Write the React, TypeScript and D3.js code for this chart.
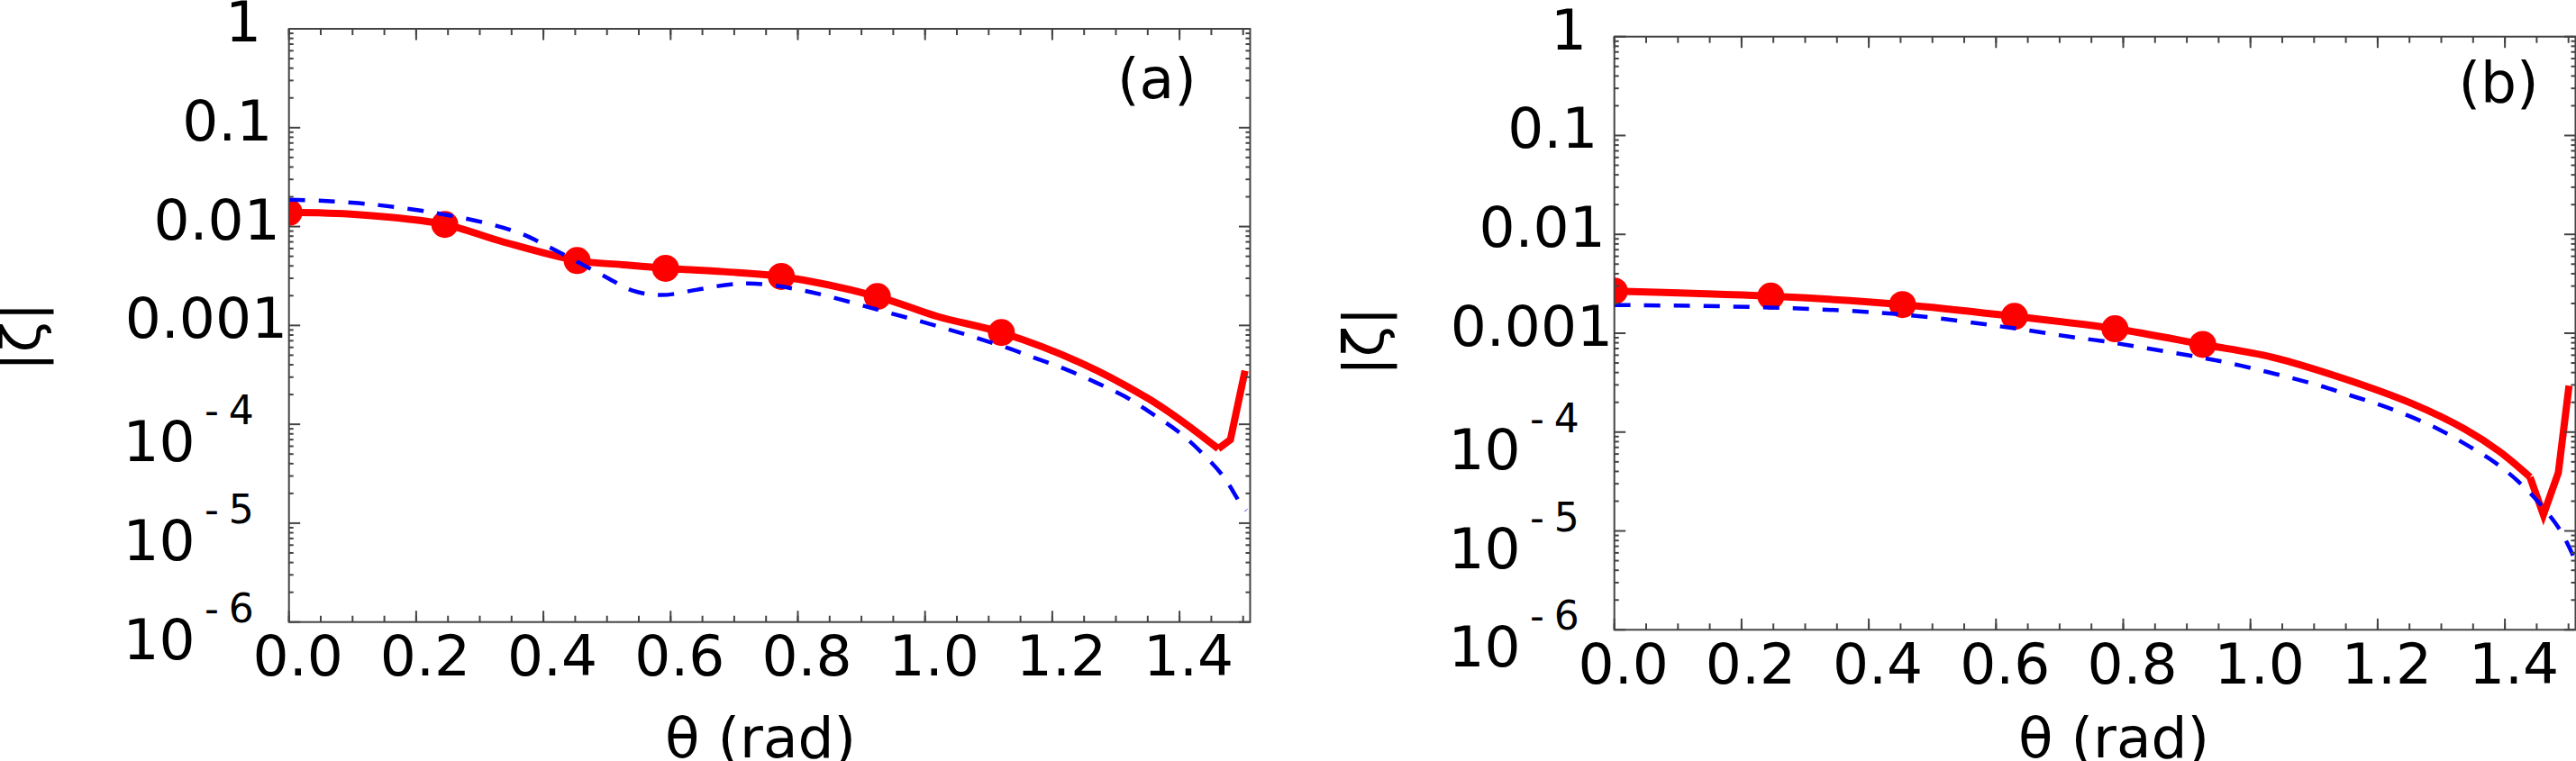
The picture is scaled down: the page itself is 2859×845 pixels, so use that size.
import React from 'react';
import * as d3 from 'd3';

// ---------- data ----------
const xTickLabels = ['0.0', '0.2', '0.4', '0.6', '0.8', '1.0', '1.2', '1.4'];
const xTickValues = [0, 0.2, 0.4, 0.6, 0.8, 1.0, 1.2, 1.4];
const yTickValues = [1, 0.1, 0.01, 0.001, 1e-4, 1e-5, 1e-6];
const yTickLabels = ['1', '0.1', '0.01', '0.001', '10^-4', '10^-5', '10^-6'];
const xLabel = 'θ (rad)';
const yLabel = '|ζ|';
const panelLabels = ['(a)', '(b)'];

// panel (a)
const thetaRedA = [0, 0.107, 0.245, 0.335, 0.453, 0.5245, 0.592, 0.683, 0.774, 0.925, 1.02, 1.12, 1.246, 1.346, 1.40, 1.461, 1.480, 1.503];
const zetaRedA = [1.39e-2, 1.32e-2, 1.05e-2, 7.05e-3, 4.53e-3, 4.11e-3, 3.78e-3, 3.50e-3, 3.13e-3, 1.96e-3, 1.23e-3, 8.47e-4, 4.15e-4, 1.9e-4, 1.12e-4, 5.66e-5, 6.98e-5, 3.48e-4];
const thetaMarkA = [0, 0.245, 0.453, 0.592, 0.774, 0.925, 1.12];
const zetaMarkA = [1.39e-2, 1.05e-2, 4.53e-3, 3.78e-3, 3.13e-3, 1.96e-3, 8.47e-4];
const thetaBlueA = [0, 0.048, 0.137, 0.231, 0.316, 0.367, 0.406, 0.496, 0.540, 0.586, 0.642, 0.692, 0.733, 0.789, 0.839, 0.936, 0.984, 1.033, 1.080, 1.128, 1.176, 1.223, 1.269, 1.315, 1.357, 1.398, 1.437, 1.470, 1.496, 1.505];
const zetaBlueA = [1.87e-2, 1.83e-2, 1.66e-2, 1.37e-2, 1.06e-2, 8.38e-3, 6.34e-3, 3.15e-3, 2.25e-3, 2.03e-3, 2.30e-3, 2.59e-3, 2.65e-3, 2.38e-3, 2.04e-3, 1.38e-3, 1.14e-3, 9.27e-4, 7.52e-4, 5.97e-4, 4.61e-4, 3.56e-4, 2.64e-4, 1.90e-4, 1.28e-4, 8.43e-5, 5.01e-5, 2.91e-5, 1.58e-5, 1.35e-5];

// panel (b)
const thetaRedB = [0, 0.246, 0.453, 0.629, 0.787, 0.925, 1.034, 1.144, 1.254, 1.337, 1.392, 1.4395, 1.4605, 1.484, 1.5008];
const zetaRedB = [2.67e-3, 2.37e-3, 1.95e-3, 1.48e-3, 1.11e-3, 7.7e-4, 5.73e-4, 3.52e-4, 1.94e-4, 1.07e-4, 6.32e-5, 3.50e-5, 1.46e-5, 3.88e-5, 2.95e-4];
const thetaMarkB = [0, 0.246, 0.453, 0.629, 0.787, 0.925];
const zetaMarkB = [2.67e-3, 2.37e-3, 1.95e-3, 1.48e-3, 1.11e-3, 7.7e-4];
const thetaBlueB = [0, 0.244, 0.45, 0.629, 0.715, 0.765, 0.814, 0.913, 0.963, 1.012, 1.062, 1.111, 1.158, 1.205, 1.251, 1.298, 1.342, 1.385, 1.424, 1.459, 1.488, 1.508];
const zetaBlueB = [1.93e-3, 1.82e-3, 1.55e-3, 1.12e-3, 9.23e-4, 8.36e-4, 7.46e-4, 5.81e-4, 5.05e-4, 4.27e-4, 3.56e-4, 2.92e-4, 2.34e-4, 1.87e-4, 1.44e-4, 1.05e-4, 7.28e-5, 4.89e-5, 3.04e-5, 1.76e-5, 9.93e-6, 5.48e-6];

const xDomain = [0, 1.511];
const yDomain = [1e-6, 1];

// ---------- styling / layout ----------
const W = 2859;
const H = 845;
const FONT = "'DejaVu Sans', 'Noto Sans', sans-serif";
const FS = 63;
const SUP_FS = 44;
const AXIS = '#444';

const layouts = [
  { x0: 320.7, y0: 32, y1: 690.7, titleX: 844, yTitleX: 44.4, yTitleY: 374, labX: 1240, labY: 108.5, linearFrom: 1.461 },
  { x0: 1791.7, y0: 40.7, y1: 699.3, titleX: 2346, yTitleX: 1535, yTitleY: 379, labX: 2728.5, labY: 113, linearFrom: 1.4395 },
];
const PX_PER_UNIT = 706;

function advance(s: string) {
  let w = 0;
  for (const c of s) w += c === '.' ? 0.318 : 0.636;
  return w * FS;
}

type Series = { t: number[]; v: number[] };

function Panel({ idx, red, marks, blue }: { idx: number; red: Series; marks: Series; blue: Series }) {
  const L = layouts[idx];
  const x1 = L.x0 + (xDomain[1] - xDomain[0]) * PX_PER_UNIT;
  const x = d3.scaleLinear().domain(xDomain).range([L.x0, x1]);
  const y = d3.scaleLog().domain(yDomain).range([L.y1, L.y0]);
  const clipId = `clip${idx}`;

  const smooth = d3
    .line<[number, number]>()
    .x((d) => x(d[0]))
    .y((d) => y(d[1]))
    .curve(d3.curveCatmullRom.alpha(0.5));
  const straight = d3
    .line<[number, number]>()
    .x((d) => x(d[0]))
    .y((d) => y(d[1]))
    .curve(d3.curveLinear);

  const redPts = red.t.map((t, i) => [t, red.v[i]] as [number, number]);
  const redSmooth = redPts.filter((p) => p[0] <= L.linearFrom + 1e-9);
  const redTail = redPts.filter((p) => p[0] >= L.linearFrom - 1e-9);
  const bluePts = blue.t.map((t, i) => [t, blue.v[i]] as [number, number]);

  const xMinor = d3.range(0, xDomain[1] + 1e-9, 0.05);
  const yMinor: number[] = [];
  for (let k = -6; k < 0; k++) for (let m = 2; m <= 9; m++) yMinor.push(m * Math.pow(10, k));

  return (
    <g>
      <defs>
        <clipPath id={clipId}>
          <rect x={L.x0} y={L.y0} width={x1 - L.x0} height={L.y1 - L.y0} />
        </clipPath>
      </defs>
      <g clipPath={`url(#${clipId})`}>
        <path d={smooth(redSmooth) || ''} fill="none" stroke="#ff0000" strokeWidth={8} />
        <path d={straight(redTail) || ''} fill="none" stroke="#ff0000" strokeWidth={8} strokeLinejoin="miter" strokeMiterlimit={10} />
        {marks.t.map((t, i) => (
          <circle key={i} cx={x(t)} cy={y(marks.v[i])} r={15} fill="#ff0000" />
        ))}
        <path d={smooth(bluePts) || ''} fill="none" stroke="#0000ff" strokeWidth={4.5} strokeDasharray="18,15" />
      </g>
      {/* frame */}
      <rect x={L.x0} y={L.y0} width={x1 - L.x0} height={L.y1 - L.y0} fill="none" stroke={AXIS} strokeWidth={2} />
      {/* x ticks */}
      {xMinor.map((t, i) => (
        <g key={'xm' + i} stroke={AXIS} strokeWidth={2}>
          <line x1={x(t)} x2={x(t)} y1={L.y1} y2={L.y1 - 7} />
          <line x1={x(t)} x2={x(t)} y1={L.y0} y2={L.y0 + 7} />
        </g>
      ))}
      {xTickValues.map((t, i) => (
        <g key={'xM' + i} stroke={AXIS} strokeWidth={2}>
          <line x1={x(t)} x2={x(t)} y1={L.y1} y2={L.y1 - 12.5} />
          <line x1={x(t)} x2={x(t)} y1={L.y0} y2={L.y0 + 12.5} />
        </g>
      ))}
      {/* y ticks */}
      {yMinor.map((v, i) => (
        <g key={'ym' + i} stroke={AXIS} strokeWidth={2}>
          <line x1={L.x0} x2={L.x0 + 5} y1={y(v)} y2={y(v)} />
          <line x1={x1} x2={x1 - 5} y1={y(v)} y2={y(v)} />
        </g>
      ))}
      {yTickValues.map((v, i) => (
        <g key={'yM' + i} stroke={AXIS} strokeWidth={2}>
          <line x1={L.x0} x2={L.x0 + 12.5} y1={y(v)} y2={y(v)} />
          <line x1={x1} x2={x1 - 12.5} y1={y(v)} y2={y(v)} />
        </g>
      ))}
      {/* x tick labels */}
      {xTickValues.map((t, i) => (
        <text key={'xl' + i} x={x(t) + 10} y={L.y1 + 59.3} fontSize={FS} textAnchor="middle" fontFamily={FONT} fill="#000">
          {xTickLabels[i]}
        </text>
      ))}
      {/* y tick labels */}
      {yTickValues.map((v, i) => {
        const lab = yTickLabels[i];
        const ty = y(v);
        if (lab.startsWith('10^')) {
          const exp = lab.slice(3).replace('-', '');
          return (
            <g key={'yl' + i} fontFamily={FONT} fill="#000">
              <text x={L.x0 - 184.3} y={ty + 41} fontSize={FS}>10</text>
              <text x={L.x0 - 93.8} y={ty} fontSize={SUP_FS}>-</text>
              <text x={L.x0 - 66.9} y={ty} fontSize={SUP_FS}>{exp}</text>
            </g>
          );
        }
        return (
          <text key={'yl' + i} x={L.x0 - 39 - 0.793 * advance(lab)} y={ty + 14} fontSize={FS} fontFamily={FONT} fill="#000">
            {lab}
          </text>
        );
      })}
      {/* titles */}
      <text x={L.titleX} y={841} fontSize={FS} textAnchor="middle" fontFamily={FONT} fill="#000">
        {xLabel}
      </text>
      <text
        transform={`translate(${L.yTitleX},${L.yTitleY}) rotate(-90)`}
        fontSize={FS}
        textAnchor="middle"
        fontFamily={FONT}
        fill="#000"
      >
        {yLabel}
      </text>
      <text x={L.labX} y={L.labY} fontSize={FS} fontFamily={FONT} fill="#000">
        {panelLabels[idx]}
      </text>
    </g>
  );
}

export default function App() {
  return (
    <div style={{ position: 'absolute', left: 0, top: 0, width: W, height: H, overflow: 'hidden', background: '#fff' }}>
      <svg width={W} height={H} viewBox={`0 0 ${W} ${H}`} style={{ display: 'block' }}>
        <rect width={W} height={H} fill="#fff" />
        <Panel
          idx={0}
          red={{ t: thetaRedA, v: zetaRedA }}
          marks={{ t: thetaMarkA, v: zetaMarkA }}
          blue={{ t: thetaBlueA, v: zetaBlueA }}
        />
        <Panel
          idx={1}
          red={{ t: thetaRedB, v: zetaRedB }}
          marks={{ t: thetaMarkB, v: zetaMarkB }}
          blue={{ t: thetaBlueB, v: zetaBlueB }}
        />
      </svg>
    </div>
  );
}
